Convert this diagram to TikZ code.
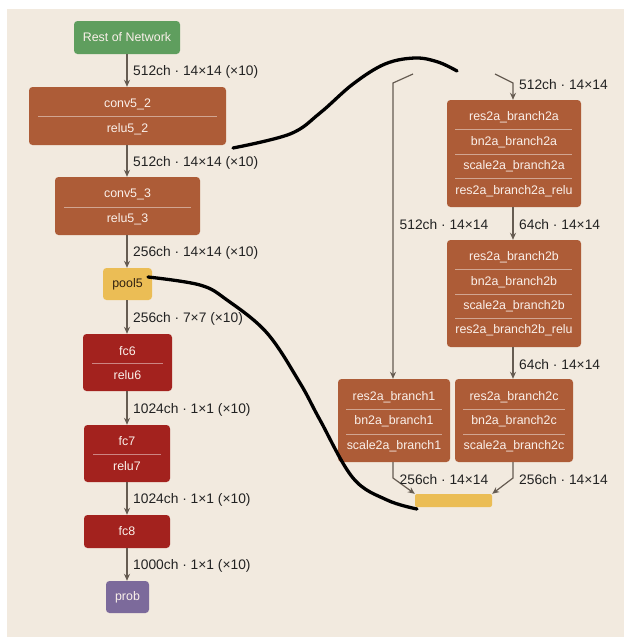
\documentclass[tikz,border=0pt]{standalone}
\usepackage{fontspec}
\setmainfont{Liberation Sans}
\usetikzlibrary{arrows.meta}
\definecolor{bgbeige}{HTML}{F2EADF}
\definecolor{netgreen}{HTML}{5F9E5E}
\definecolor{convbrown}{HTML}{AD5C37}
\definecolor{fcred}{HTML}{A3221E}
\definecolor{poolyellow}{HTML}{EBBD55}
\definecolor{probpurple}{HTML}{7C6A9B}
\definecolor{edgegray}{HTML}{665C52}
\definecolor{labeldark}{HTML}{222222}
\definecolor{boxtext}{HTML}{FAF0EA}
\tikzset{
  layer/.style={rounded corners=3.5pt, inner sep=0pt, minimum width=#1},
  rowtext/.style={text=boxtext, font=\fontsize{12.4}{14}\selectfont, inner sep=0pt},
  sepline/.style={draw=white, draw opacity=0.45, line width=0.8pt},
  flow/.style={draw=edgegray, line width=1.2pt, -{Stealth[length=7pt,width=6pt]}},
  dimlabel/.style={text=labeldark, font=\fontsize{13.8}{15}\selectfont, inner sep=0pt},
  sketch/.style={draw=black, line width=3.3pt, line cap=round}
}
\begin{document}
\begin{tikzpicture}[x=1pt, y=-1pt]
% canvas
\fill[white] (0,0) rectangle (624,637);
\fill[bgbeige] (7,9) rectangle (624,637);
\useasboundingbox (0,0) rectangle (624,637);

% ---------------- main column ----------------
\node[layer=106pt, minimum height=33pt, fill=netgreen] (rest) at (127,37.5) {};
\node[rowtext] at (rest) {Rest of Network};

\node[layer=197pt, minimum height=58pt, fill=convbrown] (c52) at (127.5,116) {};
\node[rowtext] at (127.5,104) {conv5\_2};
\draw[sepline] (38,116.5) -- (217,116.5);
\node[rowtext] at (127.5,129) {relu5\_2};

\node[layer=145pt, minimum height=58pt, fill=convbrown] (c53) at (127.5,206) {};
\node[rowtext] at (127.5,194) {conv5\_3};
\draw[sepline] (64,207) -- (191,207);
\node[rowtext] at (127.5,219) {relu5\_3};

\node[layer=49pt, minimum height=32pt, fill=poolyellow] (pool5) at (127.5,284) {};
\node[rowtext, text=black!75!brown] at (pool5) {pool5};

\node[layer=89pt, minimum height=57pt, fill=fcred] (fc6) at (127.5,362.5) {};
\node[rowtext] at (127.5,351) {fc6};
\draw[sepline] (92,363) -- (163,363);
\node[rowtext] at (127.5,375) {relu6};

\node[layer=86pt, minimum height=57pt, fill=fcred] (fc7) at (127,453.5) {};
\node[rowtext] at (127,441) {fc7};
\draw[sepline] (93,454) -- (161,454);
\node[rowtext] at (127,466) {relu7};

\node[layer=86pt, minimum height=33pt, fill=fcred] (fc8) at (127,531.5) {};
\node[rowtext] at (fc8) {fc8};

\node[layer=43pt, minimum height=32pt, fill=probpurple] (prob) at (127.5,597) {};
\node[rowtext] at (prob) {prob};

% main column connectors
\draw[flow] (rest.south -| 127,0) -- (c52.north -| 127,0);
\draw[flow] (c52.south -| 127,0) -- (c53.north -| 127,0);
\draw[flow] (c53.south -| 127,0) -- (pool5.north -| 127,0);
\draw[flow] (pool5.south -| 127,0) -- (fc6.north -| 127,0);
\draw[flow] (fc6.south -| 127,0) -- (fc7.north -| 127,0);
\draw[flow] (fc7.south -| 127,0) -- (fc8.north -| 127,0);
\draw[flow] (fc8.south -| 127,0) -- (prob.north -| 127,0);

\node[dimlabel, anchor=west] (l1) at (133,72) {512ch · 14×14 (×10)};
\node[dimlabel, anchor=west] (l2) at (133,163) {512ch · 14×14 (×10)};
\node[dimlabel, anchor=west] (l3) at (133,253) {256ch · 14×14 (×10)};
\node[dimlabel, anchor=west] (l4) at (133,319) {256ch · 7×7 (×10)};
\node[dimlabel, anchor=west] (l5) at (133,410) {1024ch · 1×1 (×10)};
\node[dimlabel, anchor=west] (l6) at (133,500) {1024ch · 1×1 (×10)};
\node[dimlabel, anchor=west] (l7) at (133,566) {1000ch · 1×1 (×10)};

% ---------------- residual block ----------------
\node[layer=134pt, minimum height=107pt, fill=convbrown] (r2a) at (514,153.5) {};
\node[rowtext] at (514,117) {res2a\_branch2a};
\draw[sepline] (455,129.5) -- (572,129.5);
\node[rowtext] at (514,142) {bn2a\_branch2a};
\draw[sepline] (455,154) -- (572,154);
\node[rowtext] at (514,166) {scale2a\_branch2a};
\draw[sepline] (455,178.5) -- (572,178.5);
\node[rowtext] at (514,191) {res2a\_branch2a\_relu};

\node[layer=134pt, minimum height=107pt, fill=convbrown] (r2b) at (514,293.5) {};
\node[rowtext] at (514,257) {res2a\_branch2b};
\draw[sepline] (455,269.5) -- (572,269.5);
\node[rowtext] at (514,282) {bn2a\_branch2b};
\draw[sepline] (455,294) -- (572,294);
\node[rowtext] at (514,306) {scale2a\_branch2b};
\draw[sepline] (455,318.5) -- (572,318.5);
\node[rowtext] at (514,330) {res2a\_branch2b\_relu};

\node[layer=112pt, minimum height=83pt, fill=convbrown] (r1) at (394,420.5) {};
\node[rowtext] at (394,397) {res2a\_branch1};
\draw[sepline] (346,409.5) -- (442,409.5);
\node[rowtext] at (394,421) {bn2a\_branch1};
\draw[sepline] (346,434) -- (442,434);
\node[rowtext] at (394,446) {scale2a\_branch1};

\node[layer=118pt, minimum height=83pt, fill=convbrown] (r2c) at (514,420.5) {};
\node[rowtext] at (514,397) {res2a\_branch2c};
\draw[sepline] (463,409.5) -- (565,409.5);
\node[rowtext] at (514,421) {bn2a\_branch2c};
\draw[sepline] (463,434) -- (565,434);
\node[rowtext] at (514,446) {scale2a\_branch2c};

\node[rounded corners=2pt, minimum width=77pt, minimum height=13pt, inner sep=0pt, fill=poolyellow] (sum) at (453.5,500.5) {};

% residual block connectors
\coordinate (inL) at (413,74);
\coordinate (inR) at (495,74);
\draw[flow] (inL) -- (393,83) -- (r1.north -| 393,0);
\draw[flow] (inR) -- (513,83) -- (r2a.north -| 513,0);
\draw[flow] (r2a.south -| 513,0) -- (r2b.north -| 513,0);
\draw[flow] (r2b.south -| 513,0) -- (r2c.north -| 513,0);
\draw[flow] (r1.south -| 393,0) -- (393,478) -- (sum.north west);
\draw[flow] (r2c.south -| 513,0) -- (513,478) -- (sum.north east);

\node[dimlabel, anchor=west] (m1) at (519,85) {512ch · 14×14};
\node[dimlabel] (m2) at (444,225) {512ch · 14×14};
\node[dimlabel, anchor=west] (m3) at (519,225) {64ch · 14×14};
\node[dimlabel, anchor=west] (m4) at (519,365) {64ch · 14×14};
\node[dimlabel] (m5) at (444,480) {256ch · 14×14};
\node[dimlabel, anchor=west] (m6) at (519,480) {256ch · 14×14};

% hand-drawn strokes linking the expanded block
\coordinate (s1a) at (233,148);
\coordinate (s1b) at (457,71);
\draw[sketch] plot[smooth, tension=0.6] coordinates {(s1a) (290,134) (320,113) (353,84) (385,64) (415,58) (438,62) (s1b)};
\coordinate (s2a) at (148,277);
\coordinate (s2b) at (417,509);
\draw[sketch] plot[smooth, tension=0.6] coordinates {(s2a) (200,285) (227,300) (267,333) (300,383) (320,420) (353,478) (387,500) (s2b)};
\end{tikzpicture}
\end{document}
